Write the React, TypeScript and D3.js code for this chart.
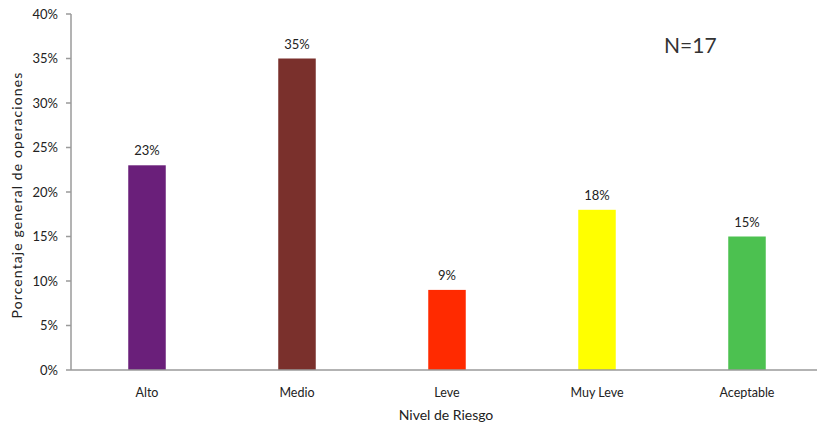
import React from "react";
import * as d3 from "d3";

const categories = ["Alto", "Medio", "Leve", "Muy Leve", "Aceptable"];
const values = [0.23, 0.35, 0.09, 0.18, 0.15];
const colors = ["#6a1f7a", "#7a302c", "#ff2a00", "#ffff00", "#4cc150"];
const yTicks = [0, 0.05, 0.1, 0.15, 0.2, 0.25, 0.3, 0.35, 0.4];

const W = 817;
const H = 428;
const FONT = "Lato, 'Open Sans', sans-serif";

export default function App() {
  const x = d3
    .scaleBand<string>()
    .domain(categories)
    .range([72, 822])
    .paddingInner(0.75)
    .paddingOuter(0.375);
  const y = d3.scaleLinear().domain([0, 0.4]).range([370, 14]);
  const fmt = d3.format(".0%");

  return (
    <svg
      width={W}
      height={H}
      style={{ position: "absolute", left: 0, top: 0, background: "#fff" }}
      fontFamily={FONT}
    >
      <rect x={0} y={0} width={W} height={H} fill="#fff" />
      {/* y axis */}
      <line x1={71} x2={71} y1={y(0.4)} y2={y(0)} stroke="#9a9a9a" strokeWidth={1.5} />
      {yTicks.map((t) => (
        <g key={t}>
          <line x1={66} x2={71} y1={y(t)} y2={y(t)} stroke="#9a9a9a" strokeWidth={1.5} />
          <text
            x={58}
            y={y(t)}
            dy="0.35em"
            textAnchor="end"
            fontSize={13}
            fill="#222"
          >
            {fmt(t)}
          </text>
        </g>
      ))}
      {/* bars */}
      {categories.map((c, i) => (
        <g key={c}>
          <rect
            x={x(c)!}
            y={y(values[i])}
            width={x.bandwidth()}
            height={y(0) - y(values[i])}
            fill={colors[i]}
          />
          <text
            x={x(c)! + x.bandwidth() / 2}
            y={y(values[i]) - 10}
            textAnchor="middle"
            fontSize={13}
            fill="#222"
          >
            {fmt(values[i])}
          </text>
          <text
            x={x(c)! + x.bandwidth() / 2}
            y={397}
            textAnchor="middle"
            fontSize={12.5}
            fill="#222"
          >
            {c}
          </text>
        </g>
      ))}
      {/* x axis */}
      <line x1={71} x2={W} y1={y(0)} y2={y(0)} stroke="#9a9a9a" strokeWidth={1.5} />
      {/* titles */}
      <text x={446} y={420} textAnchor="middle" fontSize={14} fill="#222">
        Nivel de Riesgo
      </text>
      <text
        transform={`translate(22,195) rotate(-90)`}
        textAnchor="middle"
        fontSize={14}
        fill="#222"
        letterSpacing={1.1}
      >
        Porcentaje general de operaciones
      </text>
      <text x={664} y={53} fontSize={21} fill="#333">
        N=17
      </text>
    </svg>
  );
}
